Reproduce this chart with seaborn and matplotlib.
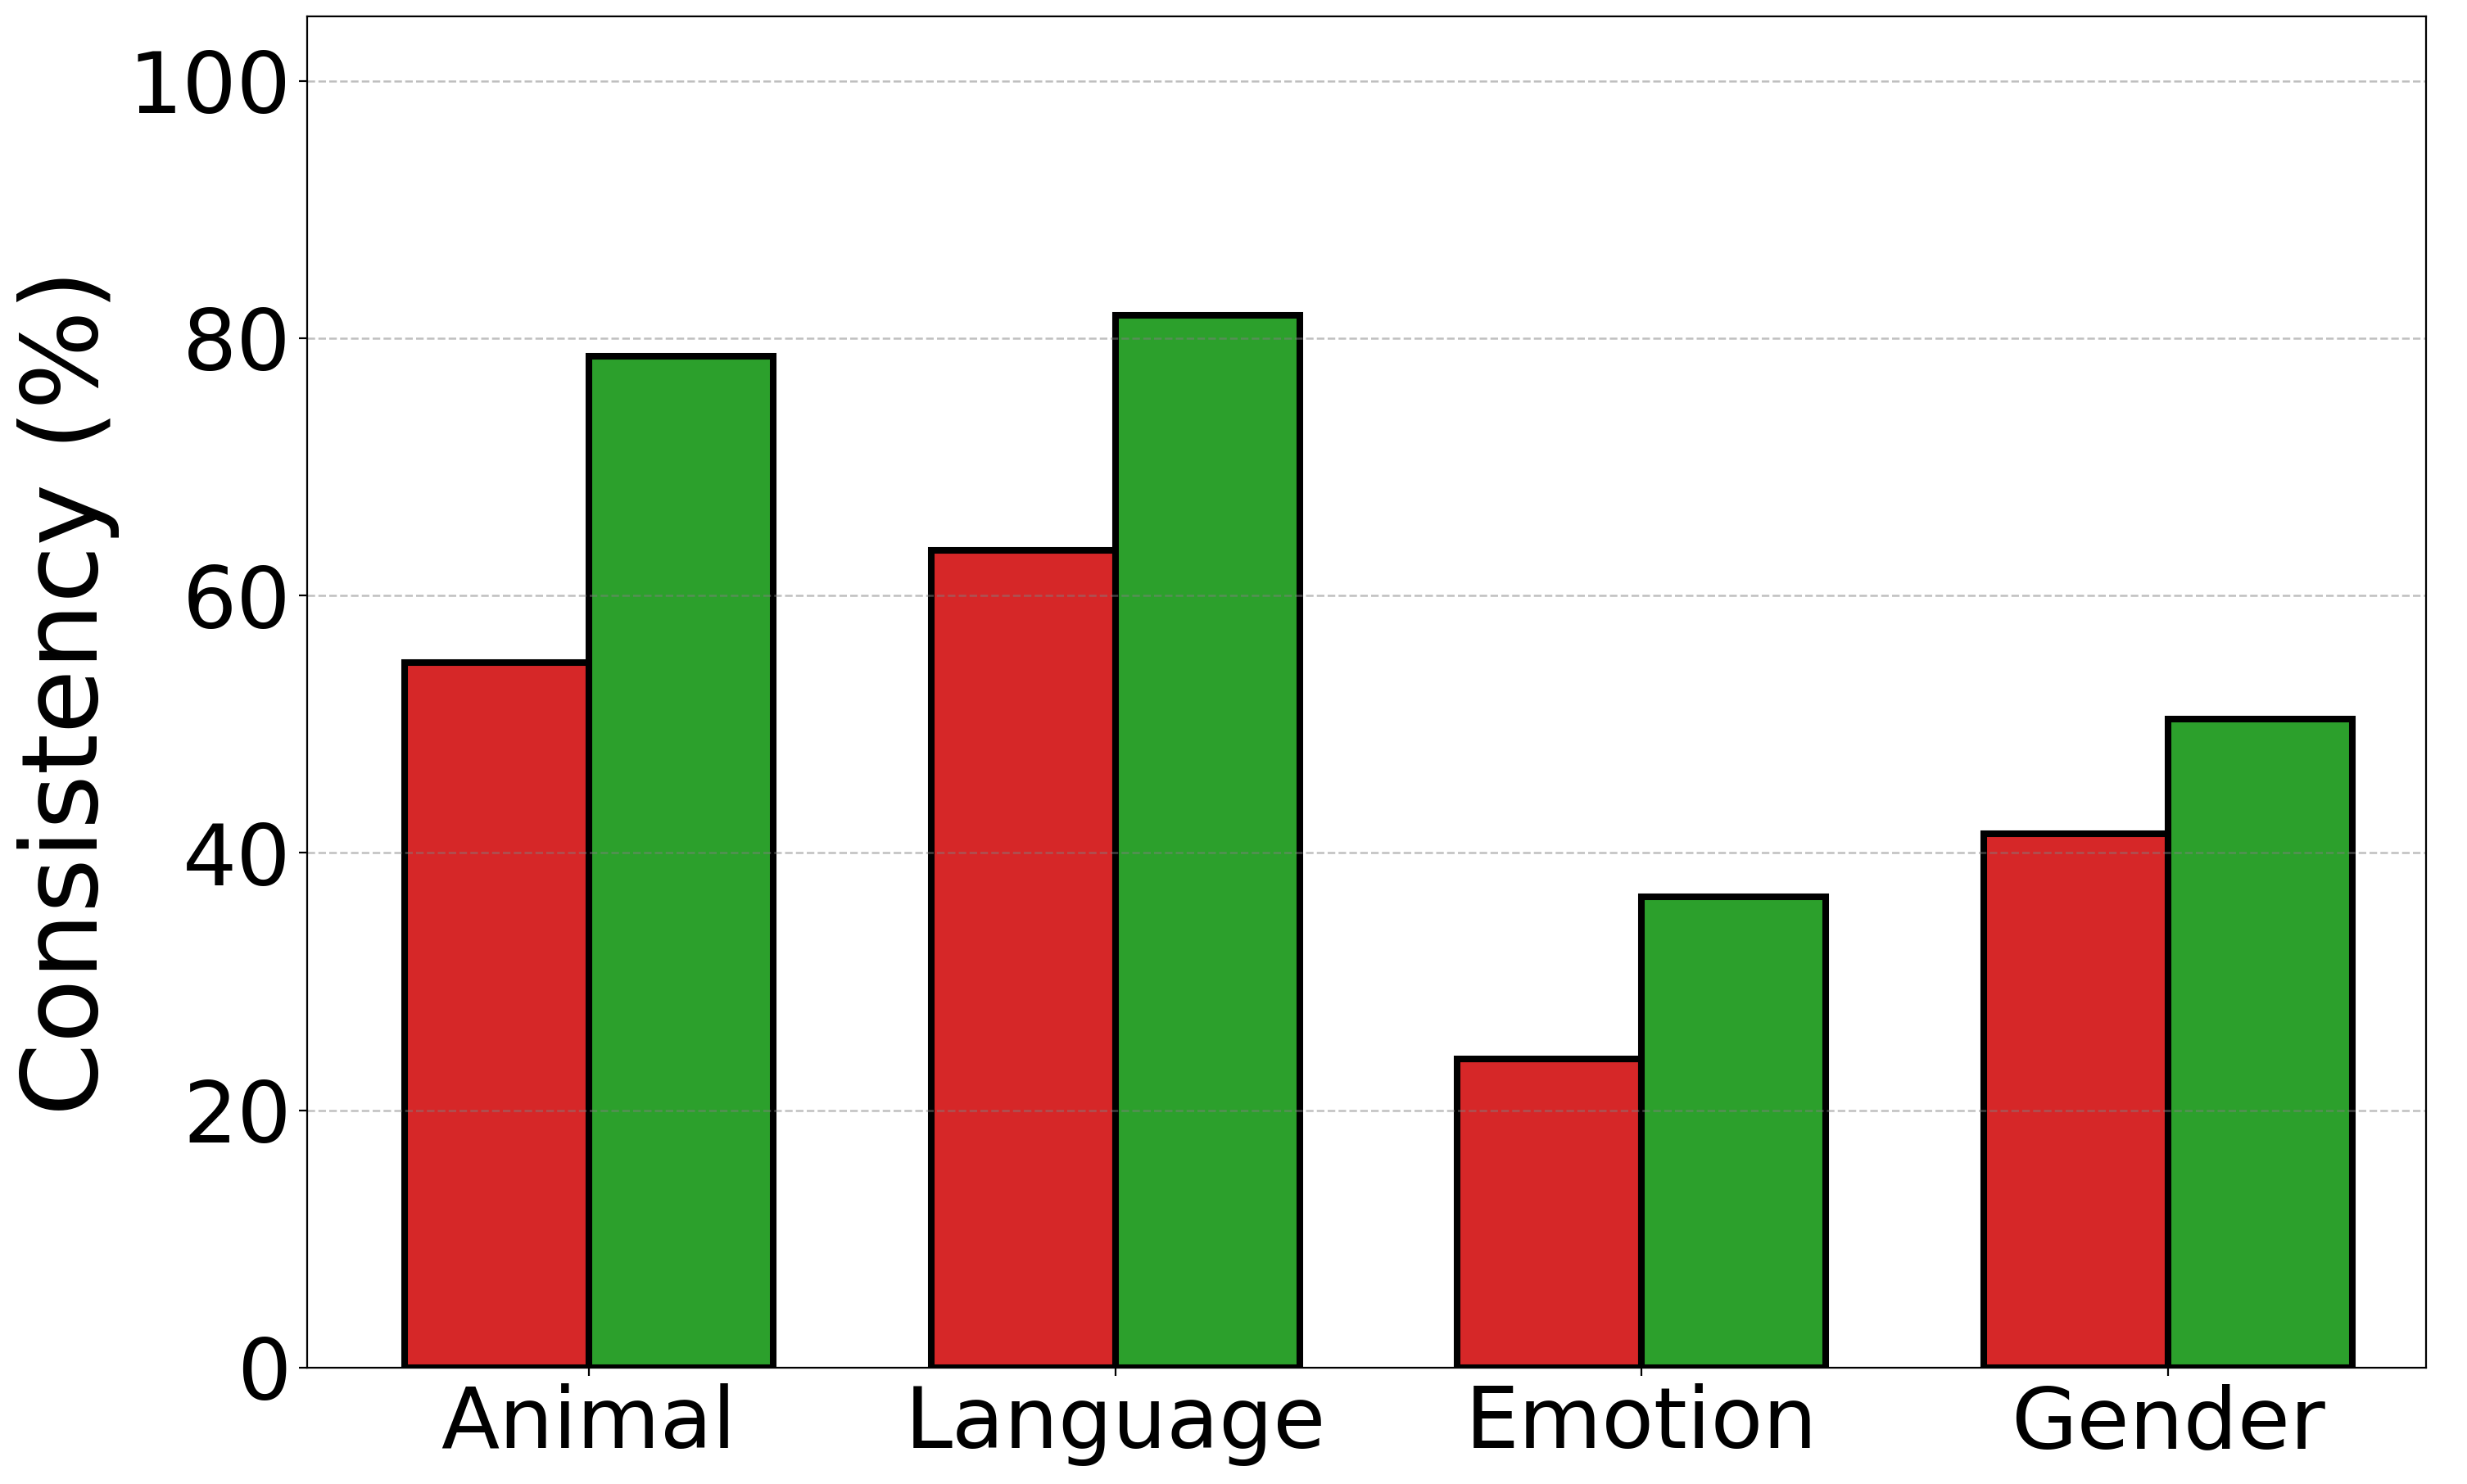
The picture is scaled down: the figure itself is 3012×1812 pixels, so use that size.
import pandas as pd
import numpy as np
import matplotlib
matplotlib.use("Agg")
import matplotlib.pyplot as plt
import seaborn as sns

# values
categories = ['Animal', 'Language', 'Emotion', 'Gender']
red_values = [54.8, 63.5, 24.0, 41.5]
green_values = [78.6, 81.8, 36.6, 50.4]
groups = ['Before', 'After']
colors = ['#d62728', '#2ca02c']

df = pd.DataFrame({
    'Category': categories * 2,
    'Group': [groups[0]] * len(categories) + [groups[1]] * len(categories),
    'Value': red_values + green_values,
})

fig, ax = plt.subplots(figsize=(15.06, 9.06), dpi=200)
fig.subplots_adjust(left=0.1245, right=0.9834, top=0.989, bottom=0.0784)

sns.barplot(data=df, x='Category', y='Value', hue='Group', order=categories,
            hue_order=groups, palette=colors, saturation=1, width=0.7,
            edgecolor='black', linewidth=2.9, legend=False, ax=ax)

ax.set_ylim(0, 105)
ax.set_yticks([0, 20, 40, 60, 80, 100])
ax.set_xlim(-0.535, 3.49)
ax.set_xlabel('')
ax.set_ylabel('Consistency (%)', fontsize=46)
ax.tick_params(axis='both', labelsize=37.5)
ax.set_axisbelow('line')
ax.yaxis.grid(True, linestyle='--', color='gray', alpha=0.5, linewidth=0.9)
ax.xaxis.grid(False)

plt.savefig('out.png', dpi=200)
